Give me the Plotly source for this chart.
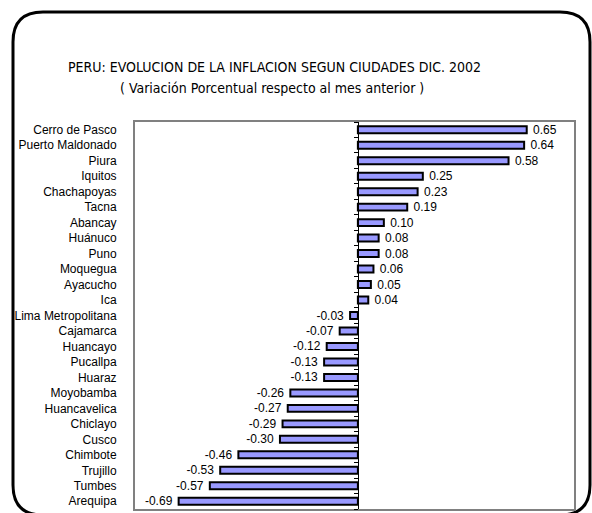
import plotly.graph_objects as go

ciudades = ["Cerro de Pasco", "Puerto Maldonado", "Piura", "Iquitos", "Chachapoyas",
            "Tacna", "Abancay", "Huánuco", "Puno", "Moquegua", "Ayacucho", "Ica",
            "Lima Metropolitana", "Cajamarca", "Huancayo", "Pucallpa", "Huaraz",
            "Moyobamba", "Huancavelica", "Chiclayo", "Cusco", "Chimbote", "Trujillo",
            "Tumbes", "Arequipa"]
variacion = [0.65, 0.64, 0.58, 0.25, 0.23, 0.19, 0.10, 0.08, 0.08, 0.06, 0.05, 0.04,
             -0.03, -0.07, -0.12, -0.13, -0.13, -0.26, -0.27, -0.29, -0.30, -0.46,
             -0.53, -0.57, -0.69]

titulo = "PERU: EVOLUCION DE LA INFLACION SEGUN CIUDADES DIC. 2002"
subtitulo = "( Variación Porcentual respecto al mes anterior )"

W, H = 592, 513
ML, MR, MT, MB = 135, 18, 122, 4
xmin, xmax = -0.858, 0.832

# pixel -> paper helpers (for the decorative frame / titles)
pw = W - ML - MR
ph = H - MT - MB
def px(x):
    return (x - ML) / pw
def py(y):
    return (H - MB - y) / ph

# a little extra gap between bar end and its label
etiquetas = [(" %.2f" % v) if v >= 0 else ("%.2f " % v) for v in variacion]

fig = go.Figure()
fig.add_trace(go.Bar(
    x=variacion, y=ciudades, orientation="h",
    marker=dict(color="#9999FF", line=dict(color="black", width=2)),
    width=0.45,
    text=etiquetas, textposition="outside",
    constraintext="none",
    textfont=dict(family="Liberation Sans, Arial", size=12, color="black"),
    cliponaxis=False, hoverinfo="skip"))

# rounded outer border
l, t, r, b, rad = 13, 12, 590, 515, 30
path = (f"M {px(l)},{py(t+rad)} Q {px(l)},{py(t)} {px(l+rad)},{py(t)} "
        f"L {px(r-rad)},{py(t)} Q {px(r)},{py(t)} {px(r)},{py(t+rad)} "
        f"L {px(r)},{py(b-rad)} Q {px(r)},{py(b)} {px(r-rad)},{py(b)} "
        f"L {px(l+rad)},{py(b)} Q {px(l)},{py(b)} {px(l)},{py(b-rad)} Z")
fig.add_shape(type="path", path=path, xref="paper", yref="paper",
              line=dict(color="black", width=3), layer="below")

titlefont = dict(family="DejaVu Sans Condensed", size=14, color="black")
fig.add_annotation(text=titulo, x=px(274), y=py(67), xref="paper", yref="paper",
                   showarrow=False, xanchor="center", yanchor="middle", font=titlefont)
fig.add_annotation(text=subtitulo, x=px(272), y=py(88), xref="paper", yref="paper",
                   showarrow=False, xanchor="center", yanchor="middle", font=titlefont)

zero_pos = (0 - xmin) / (xmax - xmin)
n = len(ciudades)

fig.update_layout(
    width=W, height=H,
    margin=dict(l=ML, r=MR, t=MT, b=MB),
    paper_bgcolor="white", plot_bgcolor="white",
    showlegend=False,
    xaxis=dict(range=[xmin, xmax], showgrid=False, zeroline=False,
               showticklabels=False, ticks="",
               showline=True, mirror=True, linecolor="#808080", linewidth=2),
    yaxis=dict(autorange="reversed", type="category", showgrid=False,
               ticks="", ticklabelstandoff=14,
               tickfont=dict(family="Liberation Sans, Arial", size=12, color="black"),
               showline=True, mirror=True, linecolor="#808080", linewidth=2),
    yaxis2=dict(overlaying="y", anchor="free", position=zero_pos,
                range=[n - 0.5, -0.5], showgrid=False, zeroline=False,
                showticklabels=False, ticks="outside", ticklen=4, tickcolor="black",
                tickwidth=1, tickmode="array",
                tickvals=[i + 0.5 for i in range(-1, n)],
                showline=True, linecolor="black", linewidth=1),
)
# invisible trace so the zero axis is drawn
fig.add_trace(go.Scatter(x=[0], y=[0], yaxis="y2", mode="markers",
                         marker=dict(opacity=0), hoverinfo="skip"))

fig.write_html("out.html", config={"displayModeBar": False},
               post_script="document.body.style.margin='0';")
